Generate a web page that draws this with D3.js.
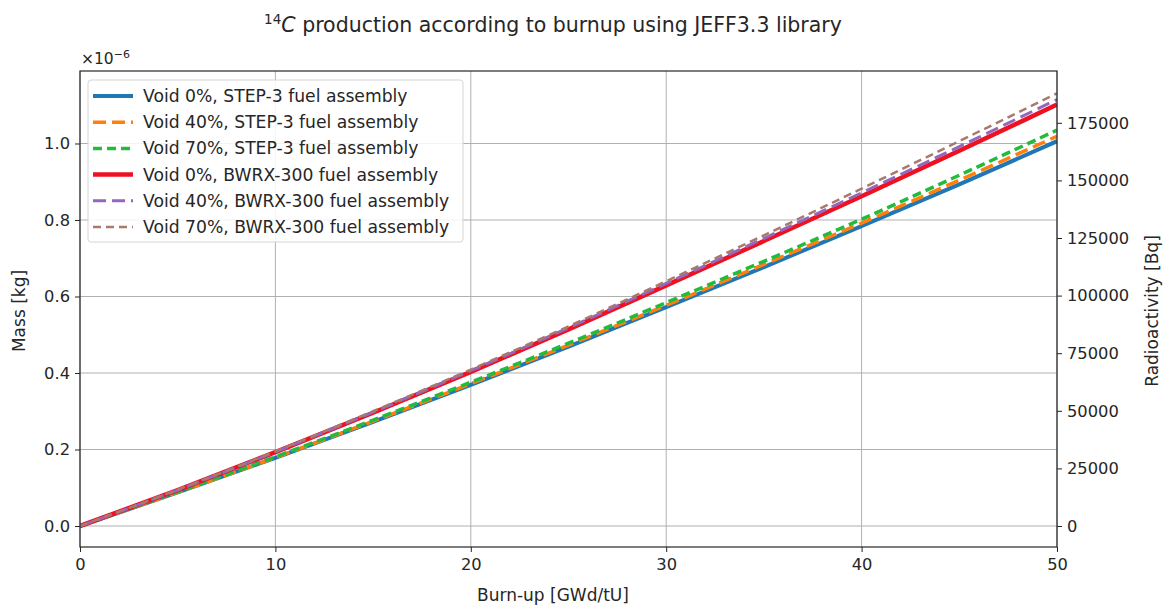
<!DOCTYPE html>
<html><head><meta charset="utf-8">
<script src="https://cdn.jsdelivr.net/npm/d3@7"></script>
<style>
body{margin:0;background:#fff;}
text{font-family:"DejaVu Sans",sans-serif;fill:#262626;}
</style></head><body>
<svg id="c" width="1168" height="607"></svg>
<script>
const burnup = [0,5,10,15,20,25,30,35,40,45,50];
const step3Void0  = [0,0.088,0.178,0.272,0.369,0.469,0.572,0.677,0.784,0.893,1.006];
const step3Void40 = [0,0.088,0.179,0.274,0.372,0.473,0.577,0.684,0.792,0.904,1.019];
const step3Void70 = [0,0.089,0.181,0.277,0.376,0.478,0.584,0.692,0.802,0.917,1.035];
const bwrxVoid0   = [0,0.094,0.193,0.296,0.403,0.514,0.629,0.745,0.862,0.981,1.102];
const bwrxVoid40  = [0,0.094,0.194,0.298,0.406,0.518,0.634,0.752,0.871,0.992,1.115];
const bwrxVoid70  = [0,0.095,0.195,0.300,0.409,0.522,0.640,0.760,0.882,1.006,1.131];
const seriesNames = ["Void 0%, STEP-3 fuel assembly","Void 40%, STEP-3 fuel assembly","Void 70%, STEP-3 fuel assembly",
  "Void 0%, BWRX-300 fuel assembly","Void 40%, BWRX-300 fuel assembly","Void 70%, BWRX-300 fuel assembly"];
const seriesValues = [step3Void0,step3Void40,step3Void70,bwrxVoid0,bwrxVoid40,bwrxVoid70];
const colors = ["#1f77b4","#ff7f0e","#22bb3c","#ee1122","#9467bd","#a87a6e"];
const widths = [4,3.5,3.5,4.5,3,2.5];
const dashes = [null,"13,6","9,5",null,"13,6","8,5"];
const xTicks = [0,10,20,30,40,50];
const yTicks = [0,0.2,0.4,0.6,0.8,1.0];
const y2Ticks = [0,25000,50000,75000,100000,125000,150000,175000];

const svg = d3.select("#c");
const L=80,R=1057,T=71,B=547;
const x = d3.scaleLinear().domain([0,50]).range([L,R]);
const y = d3.scaleLinear().domain([-0.0549,1.1895]).range([B,T]);
const y2 = d3.scaleLinear().domain([-9115,197483]).range([B,T]);

// grid
const g = svg.append("g");
xTicks.forEach(t=>g.append("line").attr("x1",x(t)).attr("x2",x(t)).attr("y1",T).attr("y2",B).attr("stroke","#b0b0b0").attr("stroke-width",1));
yTicks.forEach(t=>g.append("line").attr("x1",L).attr("x2",R).attr("y1",y(t)).attr("y2",y(t)).attr("stroke","#b0b0b0").attr("stroke-width",1));

// lines
const line = d3.line().x((d,i)=>x(burnup[i])).y(d=>y(d)).curve(d3.curveMonotoneX);
svg.append("clipPath").attr("id","cp").append("rect").attr("x",L).attr("y",T).attr("width",R-L).attr("height",B-T);
seriesValues.forEach((vals,k)=>{
  svg.append("path").attr("d",line(vals)).attr("fill","none").attr("stroke",colors[k])
    .attr("stroke-width",widths[k]).attr("stroke-dasharray",dashes[k]).attr("clip-path","url(#cp)");
});

// axes
const fs = 16.3;
const ax = svg.append("g").attr("transform",`translate(0,${B})`).call(d3.axisBottom(x).tickValues(xTicks).tickSize(5).tickPadding(6).tickFormat(d3.format("d")));
const ay = svg.append("g").attr("transform",`translate(${L},0)`).call(d3.axisLeft(y).tickValues(yTicks).tickSize(5).tickPadding(5).tickFormat(d3.format(".1f")));
const ay2 = svg.append("g").attr("transform",`translate(${R},0)`).call(d3.axisRight(y2).tickValues(y2Ticks).tickSize(5).tickPadding(5).tickFormat(d3.format("d")));
[ax,ay,ay2].forEach(a=>{
  a.select(".domain").remove();
  a.selectAll("line").attr("stroke","#262626").attr("stroke-width",1);
  a.selectAll("text").attr("font-size",fs).attr("font-family","DejaVu Sans").attr("fill","#262626");
});
svg.append("rect").attr("x",L).attr("y",T).attr("width",R-L).attr("height",B-T).attr("fill","none").attr("stroke","#262626").attr("stroke-width",1.2);

// labels
const lfs = 17;
svg.append("text").attr("x",553).attr("y",601).attr("text-anchor","middle").attr("font-size",lfs).text("Burn-up [GWd/tU]");
svg.append("text").attr("transform","translate(25,311) rotate(-90)").attr("text-anchor","middle").attr("font-size",lfs).text("Mass [kg]");
svg.append("text").attr("transform","translate(1158,311) rotate(-90)").attr("text-anchor","middle").attr("font-size",lfs).text("Radioactivity [Bq]");
const off = svg.append("text").attr("x",81).attr("y",64).attr("font-size",15.5);
off.append("tspan").text("×10");
off.append("tspan").attr("dy",-6).attr("font-size",11).text("−6");

const title = svg.append("text").attr("x",553).attr("y",32).attr("text-anchor","middle").attr("font-size",20.5);
title.append("tspan").attr("font-size",13.5).attr("dy",-8).text("14");
title.append("tspan").attr("dy",8).attr("font-style","italic").text("C");
title.append("tspan").text(" production according to burnup using JEFF3.3 library");

// legend
const lg = svg.append("g");
lg.append("rect").attr("x",88).attr("y",80).attr("width",375).attr("height",162).attr("rx",3)
  .attr("fill","#fff").attr("fill-opacity",0.85).attr("stroke","#d5d5d5").attr("stroke-width",1);
seriesNames.forEach((n,k)=>{
  const yy = 96 + k*26.2;
  lg.append("line").attr("x1",93).attr("x2",133).attr("y1",yy).attr("y2",yy).attr("stroke",colors[k])
    .attr("stroke-width",widths[k]).attr("stroke-dasharray",dashes[k]);
  lg.append("text").attr("x",143).attr("y",yy+6).attr("font-size",17.2).text(n);
});
</script></body></html>
